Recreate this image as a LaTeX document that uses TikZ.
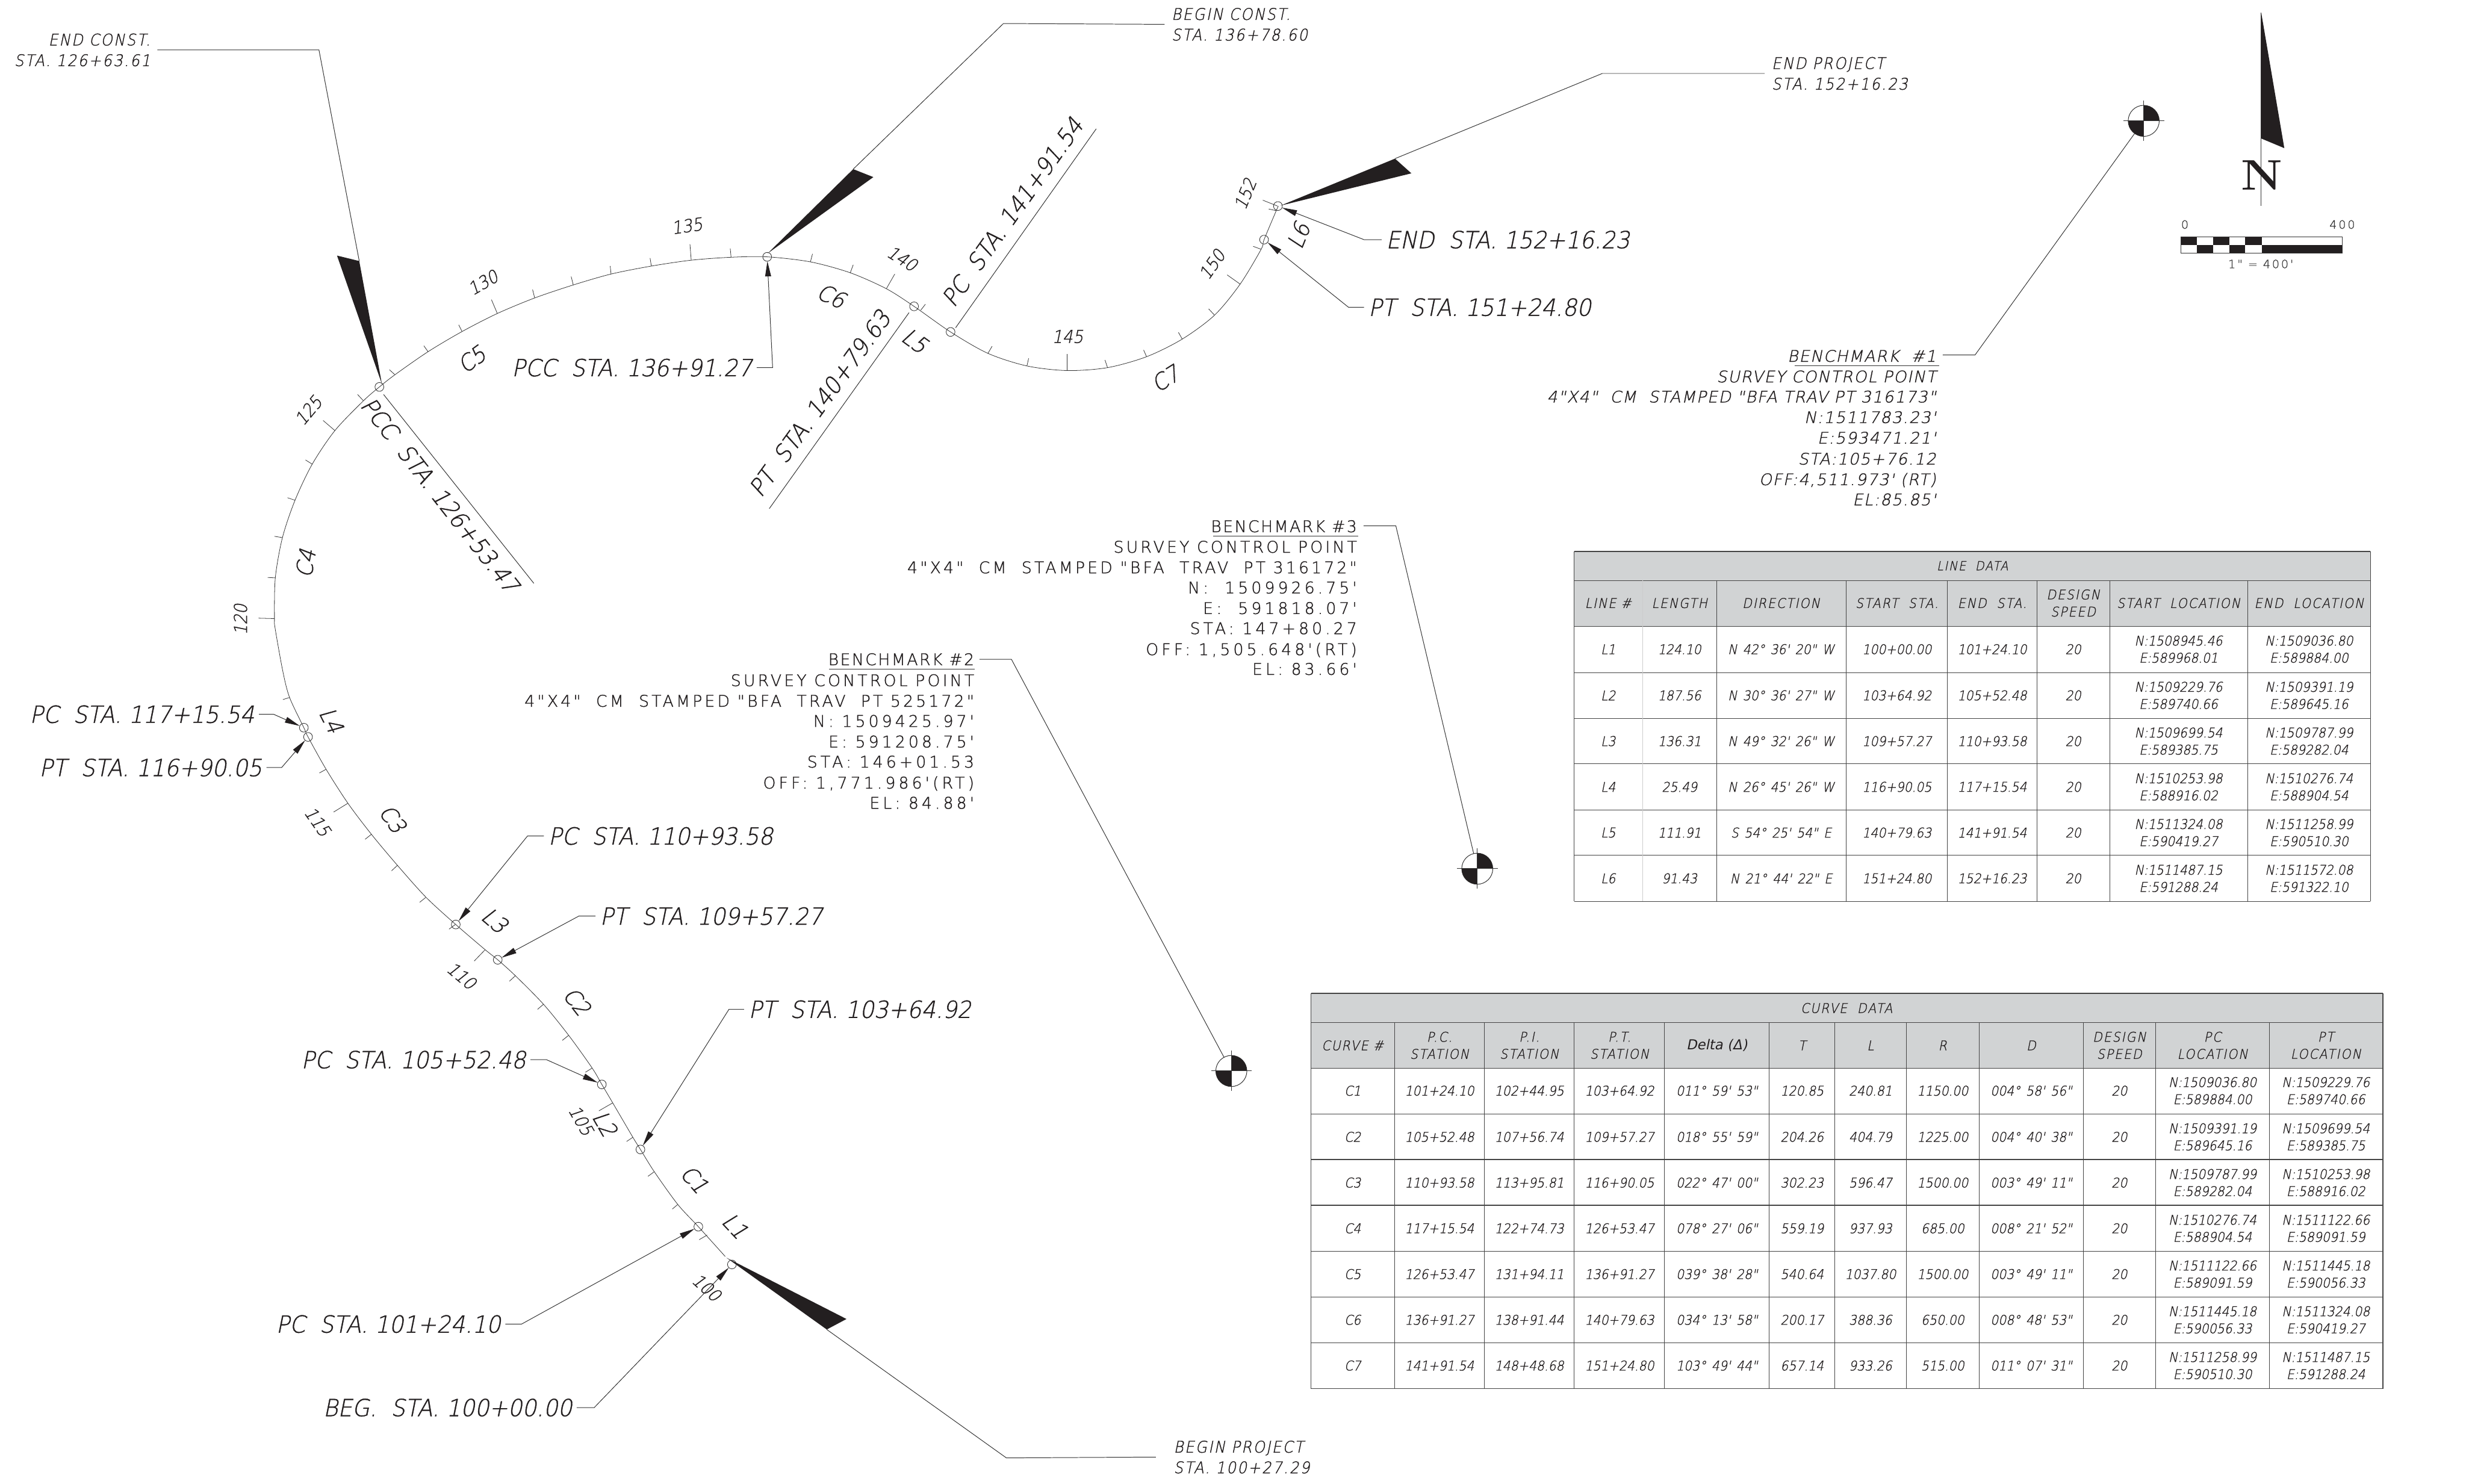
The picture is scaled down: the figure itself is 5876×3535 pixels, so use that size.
\documentclass[tikz,border=0pt]{standalone}
\usepackage{fontspec}
\usepackage{graphicx}
\usetikzlibrary{arrows.meta,calc}
\newfontfamily\fit[FakeSlant=0.2,FakeStretch=0.92,FakeBold=1]{DejaVu Sans ExtraLight}
\newfontfamily\fitb[FakeSlant=0.2,FakeStretch=0.95,FakeBold=1]{DejaVu Sans ExtraLight}
\newfontfamily\fitw[FakeSlant=0.2,FakeStretch=1.02,LetterSpace=6,FakeBold=1]{DejaVu Sans ExtraLight}
\newfontfamily\fith[FakeSlant=0.2,FakeStretch=0.92,LetterSpace=8.5,FakeBold=1]{DejaVu Sans ExtraLight}
\newfontfamily\fup[LetterSpace=19,FakeBold=1]{DejaVu Sans ExtraLight}
\newfontfamily\fupt[LetterSpace=15.5,FakeBold=1]{DejaVu Sans ExtraLight}
\newfontfamily\fuph[LetterSpace=9,FakeBold=1]{DejaVu Sans ExtraLight}
\newfontfamily\fsc[LetterSpace=15,FakeBold=.6]{DejaVu Sans ExtraLight}
\newfontfamily\fdelta[FakeSlant=0.2]{DejaVu Sans}
\newcommand\fsz[2]{\fontsize{#1}{#2}\selectfont}
\newcommand\gp{\hspace{.42em}}
\newcommand\cmm{,}
\definecolor{ink}{HTML}{231F20}
\definecolor{lin}{HTML}{333333}
\definecolor{hdr}{HTML}{D1D3D4}
\definecolor{grd}{HTML}{444444}
\tikzset{
 ldr/.style={draw=lin,line width=.4pt,-{Triangle[length=.36cm,width=.14cm,fill=ink,color=ink]}},
 plain/.style={draw=lin,line width=.4pt},
 stacirc/.style={circle,draw=lin,line width=.35pt,minimum size=.21cm,inner sep=0,outer sep=0},
 biglabel/.style={font=\fitb\fsz{16}{18},text=ink,inner xsep=.1cm,inner ysep=0,text height=.41cm,text depth=0pt},
 sidelabel/.style={font=\fith\fsz{10.9}{14},text=ink,inner xsep=.16cm,inner ysep=0},
 alongcurve/.style={font=\fit\fsz{15.5}{17},text=ink,inner sep=0},
 stanum/.style={font=\fit\fsz{12}{14},text=ink,inner sep=0},
 bmone/.style={font=\fitw\fsz{10.8}{12},text=ink,inner sep=0,anchor=base east},
 bmtwo/.style={font=\fup\fsz{10.9}{12},text=ink,inner sep=0,anchor=base east},
 bmwords/.style={font=\fupt\fsz{10.9}{12},text=ink,inner sep=0,anchor=base east},
 bmhead/.style={font=\fuph\fsz{10.9}{12},text=ink,inner sep=0,anchor=base east},
 tabcell/.style={font=\fit\fsz{9.1}{11.6},text=ink,inner sep=0,align=center},
 tabhead/.style={font=\fith\fsz{9.1}{11.6},text=ink,inner sep=0,align=center},
 bmark/.style={circle,draw=lin,line width=.4pt,minimum size=.74cm,inner sep=0,outer sep=0},
 scaletxt/.style={font=\fsc\fsz{7.8}{9},text=lin,inner sep=0,anchor=base},
}
\newcommand\bmsym[3]{%
 \node[bmark] (#1) at (#2,#3) {};
 \fill[ink] (#1.center) -- (#1.east) arc[start angle=0,end angle=90,radius=.37cm] -- cycle;
 \fill[ink] (#1.center) -- (#1.west) arc[start angle=180,end angle=270,radius=.37cm] -- cycle;
 \draw[lin,line width=.4pt] ([xshift=-.48cm]#1.center) -- ([xshift=.49cm]#1.center);
 \draw[lin,line width=.4pt] ([yshift=.48cm]#1.center) -- ([yshift=-.48cm]#1.center);
}
\begin{document}
\begin{tikzpicture}[x=.01cm,y=-.01cm]
\fill[white] (0,0) rectangle (5876,3535);
\useasboundingbox (0,0) rectangle (5876,3535);

% alignment
\draw[lin,line width=.32pt] plot[smooth,tension=.5] coordinates {
 (1728,2994)(1664,2923)(1615,2870)(1559,2792)(1526,2739)(1508,2710)(1460,2628)(1434,2584)(1411,2545)(1355,2467)(1295,2393)(1228,2325)(1186,2287)(1156,2263)(1086,2203)(1015,2138)(947,2062)(885,1988)(829,1914)(777,1833)(734,1756)(724,1734)(690,1662)(674,1600)(656,1500)(654,1474)(656,1377)(673,1281)(703,1192)(744,1106)(798,1026)(866,955)(904,922)(941,893)(1020,838)(1101,790)(1185,747)(1274,710)(1366,679)(1456,653)(1552,634)(1647,620)(1742,613)(1828,612)(1931,624)(2026,650)(2112,688)(2178,730)(2265,791)(2354,842)(2447,872)(2543,883)(2639,876)(2732,850)(2817,808)(2894,751)(2955,677)(3005,594)(3012,571)(3041,502)(3046,491)};
% ticks
\foreach \ax/\ay/\bx/\by in {1685/2943/1666/2954,1615/2870/1602/2881,1559/2792/1544/2803,1508/2710/1493/2720,1460/2628/1427/2647,1411/2545/1395/2555,1355/2467/1340/2479,1295/2393/1281/2405,1228/2325/1214/2338,1156/2263/1130/2290,1085/2203/1070/2214,1015/2138/1000/2150,947/2062/933/2075,885/1988/870/2000,829/1914/795/1935,777/1833/761/1842,690/1662/674/1667,654/1474/616/1473,656/1377/638/1376,673/1281/654/1278,703/1192/685/1186,744/1106/728/1096,798/1026/770/1002,866/955/852/940,941/893/928/881,1020/838/1010/824,1101/790/1093/774,1185/747/1171/714,1274/710/1269/690,1366/679/1361/659,1456/653/1454/634,1552/634/1549/615,1647/620/1644/582,1742/613/1740/592,1931/624/1936/605,2026/650/2033/631,2112/688/2132/653,2194/739/2205/725,2354/842/2364/825,2447/872/2451/854,2543/883/2543/844,2639/876/2633/858,2732/850/2725/834,2817/808/2808/792,2894/751/2880/736,2955/677/2924/655,3005/594/2986/587,3041/502/3023/498,3044/491/3009/477}
 \draw[lin,line width=.32pt] (\ax,\ay) -- (\bx,\by);

% station circles
\node[stacirc] (beg) at (1744,3013) {};
\node[stacirc] (pc1) at (1664,2923) {};
\node[stacirc] (pt1) at (1526,2739) {};
\node[stacirc] (pc2) at (1434,2584) {};
\node[stacirc] (pt2) at (1186,2287) {};
\node[stacirc] (pc3) at (1086,2203) {};
\node[stacirc] (pt3) at (734,1756) {};
\node[stacirc] (pc4) at (724,1734) {};
\node[stacirc] (pcc5) at (904,922) {};
\node[stacirc] (pcc6) at (1828,612) {};
\node[stacirc] (pt6) at (2178,730) {};
\node[stacirc] (pc7) at (2265,791) {};
\node[stacirc] (pt7) at (3012,571) {};
\node[stacirc] (endp) at (3045,491) {};

% wedges
\fill[ink] (1731,2997) -- (2017,3143) -- (1970,3168) -- cycle;
\fill[ink] (910,915) -- (803,609) -- (856,622) -- cycle;
\fill[ink] (1829,604) -- (2033,403) -- (2081,422) -- cycle;
\fill[ink] (3051,490) -- (3324,378) -- (3363,413) -- cycle;

% construction and project labels
\node[sidelabel,align=left,anchor=west,inner xsep=.42cm] (lbp) at (2754,3472) {BEGIN PROJECT\\STA. 100+27.29};
\draw[plain] (lbp.west) -- (2398,3474) -- (1970,3168);
\node[sidelabel,align=right,anchor=east] (lec) at (375,119) {END CONST.\\STA. 126+63.61};
\draw[plain] (lec.east) -- (760,119) -- (856,622);
\node[sidelabel,align=left,anchor=west] (lbc) at (2775,58) {BEGIN CONST.\\STA. 136+78.60};
\draw[plain] (lbc.west) -- (2391,56) -- (2033,403);
\node[sidelabel,align=left,anchor=west] (lep) at (4205,175) {END PROJECT\\STA. 152+16.23};
\draw[plain] (lep.west) -- (3818,175) -- (3324,378);

% station labels with arrows
\node[biglabel,anchor=east] (lbeg) at (1374,3354) {BEG.~~STA.~100+00.00};
\draw[ldr] (lbeg.east) -- (1416,3354) -- (beg);
\node[biglabel,anchor=east] (lpc1) at (1204,3155) {PC~~STA.~101+24.10};
\draw[ldr] (lpc1.east) -- (1243,3155) -- (pc1);
\node[biglabel,anchor=west] (lpt1) at (1773,2405) {PT~~STA.~103+64.92};
\draw[ldr] (lpt1.west) -- (1737,2405) -- (pt1);
\node[biglabel,anchor=east] (lpc2) at (1264,2525) {PC~~STA.~105+52.48};
\draw[ldr] (lpc2.east) -- (1302,2525) -- (pc2);
\node[biglabel,anchor=west] (lpt2) at (1419,2183) {PT~~STA.~109+57.27};
\draw[ldr] (lpt2.west) -- (1379,2183) -- (pt2);
\node[biglabel,anchor=west] (lpc3) at (1296,1992) {PC~~STA.~110+93.58};
\draw[ldr] (lpc3.west) -- (1257,1992) -- (pc3);
\node[biglabel,anchor=east] (lpt3) at (635,1829) {PT~~STA.~116+90.05};
\draw[ldr] (lpt3.east) -- (671,1829) -- (pt3);
\node[biglabel,anchor=east] (lpc4) at (617,1702) {PC~~STA.~117+15.54};
\draw[ldr] (lpc4.east) -- (652,1702) -- (pc4);
\node[biglabel,anchor=east] (lpcc6) at (1803,876) {PCC~~STA.~136+91.27};
\draw[ldr] (lpcc6.east) -- (1841,876) -- (pcc6);
\node[biglabel,anchor=west] (lpt7) at (3250,732) {PT~~STA.~151+24.80};
\draw[ldr] (lpt7.west) -- (3213,732) -- (pt7);
\node[biglabel,anchor=west] (lend) at (3292,571) {END~~STA.~152+16.23};
\draw[ldr] (lend.west) -- (3250,571) -- (endp);

% rotated labels with plain leaders
\node[biglabel,rotate=-52,inner xsep=0] (lpcc5) at (1049,1180) {PCC~~STA.~126+53.47};
\coordinate (epcc5) at (1272,1390);
\draw[plain] (pcc5) ++(10,18) -- (epcc5);
\node[biglabel,rotate=54,inner xsep=0] (lpt6) at (1953,961) {PT~~STA.~140+79.63};
\coordinate (ept6) at (1833,1212);
\draw[plain] (pt6) ++(-12,15) -- (ept6);
\node[biglabel,rotate=54.5,inner xsep=0] (lpc7) at (2412,505) {PC~~STA.~141+91.54};
\coordinate (epc7) at (2612,307);
\draw[plain] (pc7) ++(12,-10) -- (epc7);

% curve and line names
\foreach \nm/\xx/\yy/\rr in {C1/1655/2810/-48,L1/1752/2921/-47,L2/1442/2677/-60,C2/1375/2386/-52,L3/1179/2193/-40.5,C3/936/1951/-55,L4/790/1716/-63,C4/728/1342/80,C5/1124/856/36,C6/1981/705/-25,L5/2180/812/-36,C7/2777/902/32,L6/3094/561/68}
 \node[alongcurve,rotate=\rr] (n\nm) at (\xx,\yy) {\nm};
% station numbers
\foreach \nm/\xx/\yy/\rr in {100/1684/3068/-42,105/1385/2670/-60,110/1100/2325/-40,115/757/1958/-55,120/573/1476/90,125/735/978/50,130/1151/673/30,135/1637/538/8,140/2150/616/-32,145/2544/802/0,150/2888/630/55,152/2967/462/68}
 \node[stanum,rotate=\rr] (s\nm) at (\xx,\yy) {\nm};

% benchmark 1
\bmsym{bmA}{5108}{288}
\node[bmone] (bmAh) at (4614,862) {BENCHMARK~~\#1};
\draw[lin,line width=.45pt] (4276,871) -- (4620,871);
\draw[plain] (4629,846) -- (4706,846) -- (bmA);
\foreach \yy/\tx/\nm in {911/SURVEY~CONTROL POINT/a,959/4"X4"~~CM~~STAMPED "BFA TRAV~PT~316173"/b,1008/N:1511783.23'/c,1057/E:593471.21'/d,1107/STA:105+76.12/e,1156/OFF:4\cmm 511.973'~(RT)/f,1204/EL:85.85'/g}
 \node[bmone] (bmA\nm) at (4614,\yy) {\tx};

% benchmark 3
\bmsym{bmC}{3520}{2070}
\node[bmhead] (bmCh) at (3234,1268) {BENCHMARK \#3};
\draw[lin,line width=.45pt] (2891,1278) -- (3237,1278);
\draw[plain] (3249,1253) -- (3326,1253) -- (bmC);
\node[bmwords] (bmCa) at (3234,1317) {SURVEY CONTROL POINT};
\node[bmwords] (bmCb) at (3234,1366) {4"X4"~~CM~~STAMPED "BFA~~TRAV~~PT 316172"};
\foreach \yy/\tx/\nm in {1414/N:~~1509926.75'/c,1463/E:~~591818.07'/d,1511/STA:~147+80.27/e,1561/OFF:~1\cmm 505.648'(RT)/f,1608/EL:~83.66'/g}
 \node[bmtwo] (bmC\nm) at (3234,\yy) {\tx};

% benchmark 2
\bmsym{bmB}{2934}{2552}
\node[bmhead] (bmBh) at (2322,1585) {BENCHMARK \#2};
\draw[lin,line width=.45pt] (1976,1595) -- (2322,1595);
\draw[plain] (2334,1571) -- (2410,1571) -- (bmB);
\node[bmwords] (bmBa) at (2322,1635) {SURVEY CONTROL POINT};
\node[bmwords] (bmBb) at (2322,1684) {4"X4"~~CM~~STAMPED "BFA~~TRAV~~PT 525172"};
\foreach \yy/\tx/\nm in {1732/N:~1509425.97'/c,1781/E:~591208.75'/d,1829/STA:~146+01.53/e,1879/OFF:~1\cmm 771.986'(RT)/f,1927/EL:~84.88'/g}
 \node[bmtwo] (bmB\nm) at (2322,\yy) {\tx};

% north arrow and scale
\draw[lin,line width=.4pt] (5388,30) -- (5388,491);
\fill[ink] (5388,30) -- (5443,353) -- (5388,330) -- cycle;
\node[font=\rmfamily\bfseries\fsz{29}{30},text=ink,inner sep=0] (north) at (5389,418) {\scalebox{1.1}[1]{N}};
\foreach \xa/\xb in {5196/5235,5273/5312,5350/5389} \fill[ink] (\xa,565) rectangle (\xb,584);
\foreach \xa/\xb in {5235/5273,5312/5350,5389/5581} \fill[ink] (\xa,584) rectangle (\xb,603);
\draw[lin,line width=.4pt] (5196,565) rectangle (5581,603);
\node[scaletxt] (sc0) at (5206,545) {0};
\node[scaletxt] (sc4) at (5581,545) {400};
\node[scaletxt] (sct) at (5387,639) {1"~=~400'};

% line table
\fill[hdr] (3751,1314) rectangle (5648,1492);
\foreach \yy in {1314,1383,1492,1603,1712,1820,1930,2038,2148} \draw[grd,line width=.45pt] (3751,\yy) -- (5648,\yy);
\draw[grd,line width=.45pt] (3751,1314) -- (3751,2148);
\draw[grd,line width=.45pt] (5648,1314) -- (5648,2148);
\draw[gray!40,line width=.35pt] (3914,1383) -- (3914,2148);
\foreach \xx in {4090,4399,4640,4854,5027,5356} \draw[grd,line width=.45pt] (\xx,1383) -- (\xx,2148);
\node[tabhead,font=\fith\fsz{8.5}{10}] (ltt) at (4700,1348) {LINE~~DATA};
\foreach \xx/\tx/\nm in {3832/LINE~\#/a,4002/LENGTH/b,4244/DIRECTION/c,4520/START~~STA./d,4747/END~~STA./e,4940/{DESIGN\\SPEED}/f,5191/START~~LOCATION/g,5502/END~~LOCATION/h}
 \node[tabhead] (lh\nm) at (\xx,1437) {\tx};
\foreach \ym/\ca/\cb/\cc/\cd/\ce/\cf/\cg/\ch in {
1547/L1/124.10/N\gp 42°\gp 36'\gp 20"\gp W/100+00.00/101+24.10/20/{N:1508945.46\\E:589968.01}/{N:1509036.80\\E:589884.00},
1657/L2/187.56/N\gp 30°\gp 36'\gp 27"\gp W/103+64.92/105+52.48/20/{N:1509229.76\\E:589740.66}/{N:1509391.19\\E:589645.16},
1766/L3/136.31/N\gp 49°\gp 32'\gp 26"\gp W/109+57.27/110+93.58/20/{N:1509699.54\\E:589385.75}/{N:1509787.99\\E:589282.04},
1875/L4/25.49/N\gp 26°\gp 45'\gp 26"\gp W/116+90.05/117+15.54/20/{N:1510253.98\\E:588916.02}/{N:1510276.74\\E:588904.54},
1984/L5/111.91/S\gp 54°\gp 25'\gp 54"\gp E/140+79.63/141+91.54/20/{N:1511324.08\\E:590419.27}/{N:1511258.99\\E:590510.30},
2093/L6/91.43/N\gp 21°\gp 44'\gp 22"\gp E/151+24.80/152+16.23/20/{N:1511487.15\\E:591288.24}/{N:1511572.08\\E:591322.10}}{
 \node[tabcell] (r\ca a) at (3832,\ym) {\ca};
 \node[tabcell] (r\ca b) at (4002,\ym) {\cb};
 \node[tabcell] (r\ca c) at (4244,\ym) {\cc};
 \node[tabcell] (r\ca d) at (4520,\ym) {\cd};
 \node[tabcell] (r\ca e) at (4747,\ym) {\ce};
 \node[tabcell] (r\ca f) at (4940,\ym) {\cf};
 \node[tabcell] (r\ca g) at (5191,\ym) {\cg};
 \node[tabcell] (r\ca h) at (5502,\ym) {\ch};
}

% curve table
\fill[hdr] (3124,2367) rectangle (5678,2545);
\foreach \yy in {2367,2437,2545,2654,2763,2872,2982,3091,3200,3309} \draw[grd,line width=.45pt] (3124,\yy) -- (5678,\yy);
\draw[grd,line width=.45pt] (3124,2367) -- (3124,3309);
\draw[grd,line width=.45pt] (5678,2367) -- (5678,3309);
\foreach \xx in {3323,3537,3751,3966,4215,4372,4543,4716,4964,5137,5407} \draw[grd,line width=.45pt] (\xx,2437) -- (\xx,3309);
\node[tabhead] (ctt) at (4400,2402) {CURVE~~DATA};
\foreach \xx/\tx/\nm in {3223/CURVE~\#/a,3430/{P.C.\\STATION}/b,3644/{P.I.\\STATION}/c,3859/{P.T.\\STATION}/d,4294/T/f,4457/L/g,4629/R/h,4840/D/i,5050/{DESIGN\\SPEED}/j,5272/{PC\\LOCATION}/k,5542/{PT\\LOCATION}/l}
 \node[tabhead] (ch\nm) at (\xx,2491) {\tx};
\node[tabhead,font=\fdelta\fsz{9.3}{10}] (che) at (4091,2491) {Delta (Δ)};
\foreach \ym/\ca/\cb/\cc/\cd/\ce/\cf/\cg/\ch/\ci/\cj/\ck/\cl in {
2599/C1/101+24.10/102+44.95/103+64.92/011°\gp 59'\gp 53"/120.85/240.81/1150.00/004°\gp 58'\gp 56"/20/{N:1509036.80\\E:589884.00}/{N:1509229.76\\E:589740.66},
2709/C2/105+52.48/107+56.74/109+57.27/018°\gp 55'\gp 59"/204.26/404.79/1225.00/004°\gp 40'\gp 38"/20/{N:1509391.19\\E:589645.16}/{N:1509699.54\\E:589385.75},
2818/C3/110+93.58/113+95.81/116+90.05/022°\gp 47'\gp 00"/302.23/596.47/1500.00/003°\gp 49'\gp 11"/20/{N:1509787.99\\E:589282.04}/{N:1510253.98\\E:588916.02},
2927/C4/117+15.54/122+74.73/126+53.47/078°\gp 27'\gp 06"/559.19/937.93/685.00/008°\gp 21'\gp 52"/20/{N:1510276.74\\E:588904.54}/{N:1511122.66\\E:589091.59},
3036/C5/126+53.47/131+94.11/136+91.27/039°\gp 38'\gp 28"/540.64/1037.80/1500.00/003°\gp 49'\gp 11"/20/{N:1511122.66\\E:589091.59}/{N:1511445.18\\E:590056.33},
3145/C6/136+91.27/138+91.44/140+79.63/034°\gp 13'\gp 58"/200.17/388.36/650.00/008°\gp 48'\gp 53"/20/{N:1511445.18\\E:590056.33}/{N:1511324.08\\E:590419.27},
3254/C7/141+91.54/148+48.68/151+24.80/103°\gp 49'\gp 44"/657.14/933.26/515.00/011°\gp 07'\gp 31"/20/{N:1511258.99\\E:590510.30}/{N:1511487.15\\E:591288.24}}{
 \node[tabcell] (r\ca a) at (3223,\ym) {\ca};
 \node[tabcell] (r\ca b) at (3430,\ym) {\cb};
 \node[tabcell] (r\ca c) at (3644,\ym) {\cc};
 \node[tabcell] (r\ca d) at (3859,\ym) {\cd};
 \node[tabcell] (r\ca e) at (4091,\ym) {\ce};
 \node[tabcell] (r\ca f) at (4294,\ym) {\cf};
 \node[tabcell] (r\ca g) at (4457,\ym) {\cg};
 \node[tabcell] (r\ca h) at (4629,\ym) {\ch};
 \node[tabcell] (r\ca i) at (4840,\ym) {\ci};
 \node[tabcell] (r\ca j) at (5050,\ym) {\cj};
 \node[tabcell] (r\ca k) at (5272,\ym) {\ck};
 \node[tabcell] (r\ca l) at (5542,\ym) {\cl};
}
\end{tikzpicture}
\end{document}
